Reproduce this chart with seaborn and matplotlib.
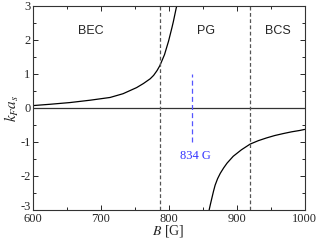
import matplotlib
matplotlib.use("Agg")
import pandas as pd
import seaborn as sns
import matplotlib.pyplot as plt
import matplotlib.transforms as mtransforms

# Values
bec_B = [600, 626, 655, 685, 714, 733, 743, 753, 763, 773, 778, 783, 787,
         790, 794, 797, 800, 802, 805, 807, 809, 811, 812]
bec_kfa = [0.07, 0.11, 0.16, 0.23, 0.31, 0.42, 0.51, 0.60, 0.72, 0.86, 0.96,
           1.10, 1.24, 1.38, 1.57, 1.77, 1.97, 2.13, 2.37, 2.54, 2.73, 2.92, 3.0]
bcs_B = [859.6, 861.5, 863.5, 866, 868.4, 872, 876, 881, 886, 895, 907, 920,
         932, 944, 956, 969, 981, 993, 1000]
bcs_kfa = [-3.0, -2.83, -2.66, -2.45, -2.27, -2.08, -1.92, -1.76, -1.62, -1.42,
           -1.23, -1.06, -0.96, -0.88, -0.81, -0.75, -0.70, -0.66, -0.63]
region_bounds = [788, 919]
resonance_B = 834
resonance_span = [-1.0, 1.0]
region_labels = ["BEC", "PG", "BCS"]
region_label_B = [685, 855, 961]
region_label_y = 2.26

sns.set_style("ticks")
plt.rcParams["font.family"] = ["Liberation Serif", "DejaVu Serif"]
plt.rcParams["mathtext.fontset"] = "stix"
plt.rcParams["axes.unicode_minus"] = False

df = pd.concat([
    pd.DataFrame({"B": bec_B, "kfa": bec_kfa, "branch": "bec"}),
    pd.DataFrame({"B": bcs_B, "kfa": bcs_kfa, "branch": "bcs"}),
])

fig = plt.figure(figsize=(3.19, 2.40), dpi=100)
ax = fig.add_axes([0.102, 0.125, 0.853, 0.85])

sns.lineplot(data=df, x="B", y="kfa", units="branch", estimator=None,
             color="black", linewidth=0.9, sort=False, ax=ax)

ax.axhline(0, color="#333333", linewidth=0.9)
for b in region_bounds:
    ax.axvline(b, color="#555555", linewidth=0.9, linestyle=(0, (3, 2)))
ax.plot([resonance_B, resonance_B], resonance_span, color="#5555ff",
        linewidth=0.9, linestyle=(0, (4, 2.5)))
ax.text(839, -1.4, "834 G", color="#3333ff", fontsize=9,
        ha="center", va="center")

for lab, bx in zip(region_labels, region_label_B):
    ax.text(bx, region_label_y, lab, fontsize=9, ha="center", va="center",
            family=["Liberation Sans", "DejaVu Sans"])

ax.set_xlim(600, 1000)
ax.set_ylim(-3, 3)
ax.set_xticks([600, 700, 800, 900, 1000])
ax.set_xticks(range(650, 1000, 100), minor=True)
ax.set_yticks([-3, -2, -1, 0, 1, 2, 3])
ax.set_yticks([-2.5, -1.5, -0.5, 0.5, 1.5, 2.5], minor=True)
ax.tick_params(which="both", direction="in", top=True, right=True,
               labelsize=9, width=0.7)
ax.tick_params(axis="x", pad=2)
ax.tick_params(axis="y", pad=1.5)
ax.tick_params(which="major", length=3.5)
ax.tick_params(which="minor", length=2)
for s in ax.spines.values():
    s.set_linewidth(0.8)
    s.set_color("#333333")

# lift the bottom y label a little so it clears the "600"
lbl = ax.get_yticklabels()[0]
lbl.set_transform(lbl.get_transform() +
                  mtransforms.ScaledTranslation(0, 3 / 72, fig.dpi_scale_trans))

ax.set_xlabel("$B$ [G]", fontsize=10, labelpad=-1)
ax.set_ylabel("$k_F a_s$", fontsize=11, labelpad=-1)

fig.savefig("out.png", dpi=100)
